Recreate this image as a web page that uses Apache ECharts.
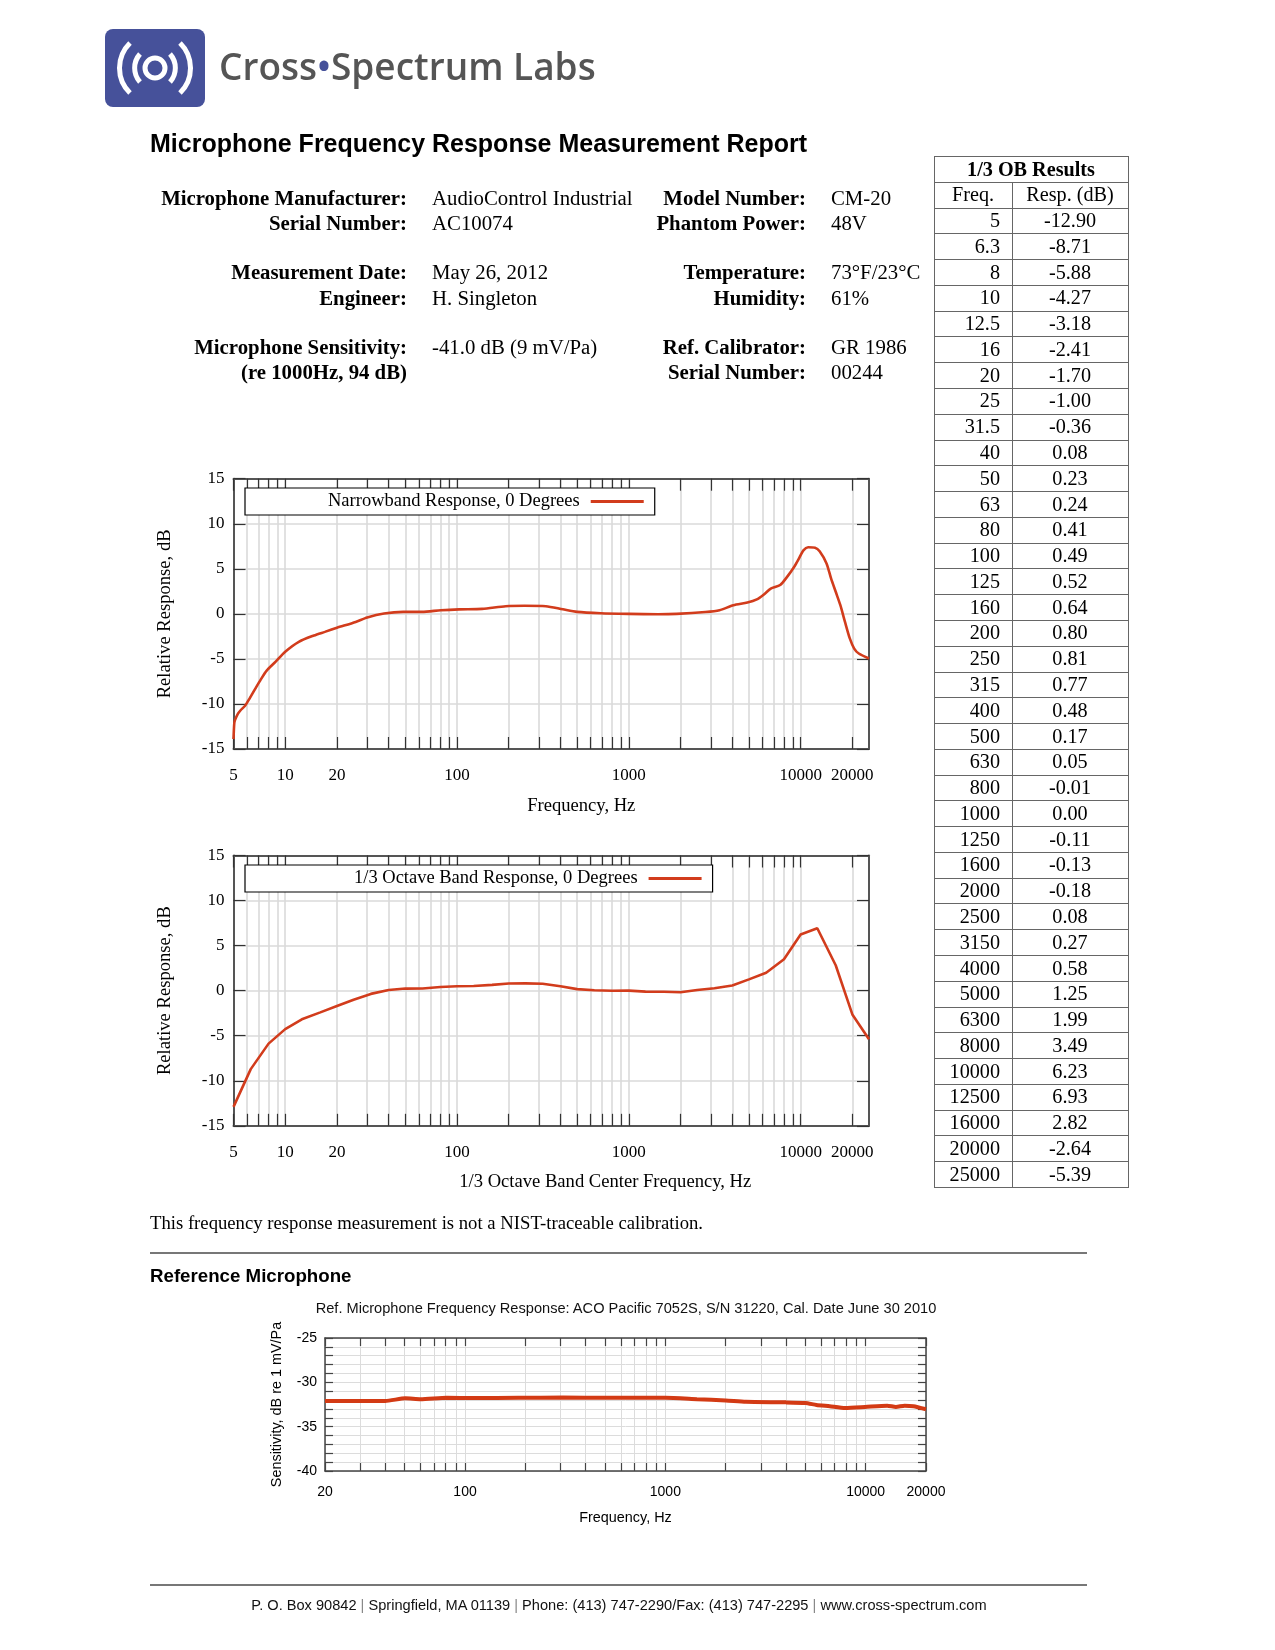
<!DOCTYPE html>
<html><head><meta charset="utf-8">
<script src="https://cdn.jsdelivr.net/npm/echarts@6/dist/echarts.min.js"></script>
<style>
html,body{margin:0;padding:0;background:#fff;}
#page{position:relative;width:1275px;height:1650px;overflow:hidden;background:#fff;}
#chart{position:absolute;left:0;top:0;width:1275px;height:1650px;}
.t{position:absolute;white-space:nowrap;line-height:1;}
.serif{font-family:'Liberation Serif','Times New Roman',serif;color:#000;}
.sans{font-family:'Liberation Sans',Arial,sans-serif;color:#000;}
.lbl{font-weight:bold;text-align:right;}
.info{font-size:20.8px;}
#obt{position:absolute;left:0;top:0;font-family:'Liberation Serif','Times New Roman',serif;font-size:20.2px;color:#000;}
#obt .cell{position:absolute;white-space:nowrap;}
#obt .hl{position:absolute;height:0;border-top:1px solid #666;}
#obt .vl{position:absolute;width:0;border-left:1px solid #666;}
.hr{position:absolute;left:150px;width:937px;height:0;border-top:2px solid #777;}
</style></head>
<body><div id="page">
<div id="chart"></div>

<svg style="position:absolute;left:105px;top:29px" width="100" height="78" viewBox="0 0 100 78">
  <rect x="0" y="0" width="100" height="78" rx="8" ry="8" fill="#46519a"/>
  <g fill="none" stroke="#fff" stroke-width="5">
    <path d="M 25 14 A 35 35 0 0 0 25 64"/>
    <path d="M 75 14 A 35 35 0 0 1 75 64"/>
    <path d="M 35 25 A 21 21 0 0 0 35 53"/>
    <path d="M 65 25 A 21 21 0 0 1 65 53"/>
    <circle cx="50" cy="39" r="10"/>
  </g>
</svg>
<div class="t" style="left:219px;top:46.5px;font-family:'Open Sans','Noto Sans',sans-serif;font-size:37px;color:#555;font-weight:600;">Cross<span style="color:#46519a">•</span>Spectrum Labs</div>

<div class="t sans" style="left:150px;top:130.5px;font-size:25px;font-weight:bold;">Microphone Frequency Response Measurement Report</div>

<div class="t serif lbl info" style="right:868px;top:187.5px;">Microphone Manufacturer:</div>
<div class="t serif info" style="left:432px;top:187.5px;">AudioControl Industrial</div>
<div class="t serif lbl info" style="right:868px;top:212.5px;">Serial Number:</div>
<div class="t serif info" style="left:432px;top:212.5px;">AC10074</div>
<div class="t serif lbl info" style="right:868px;top:262px;">Measurement Date:</div>
<div class="t serif info" style="left:432px;top:262px;">May 26, 2012</div>
<div class="t serif lbl info" style="right:868px;top:287.5px;">Engineer:</div>
<div class="t serif info" style="left:432px;top:287.5px;">H. Singleton</div>
<div class="t serif lbl info" style="right:868px;top:336.5px;">Microphone Sensitivity:</div>
<div class="t serif info" style="left:432px;top:336.5px;">-41.0 dB (9 mV/Pa)</div>
<div class="t serif lbl info" style="right:868px;top:362px;">(re 1000Hz, 94 dB)</div>

<div class="t serif lbl info" style="right:469px;top:187.5px;">Model Number:</div>
<div class="t serif info" style="left:831px;top:187.5px;">CM-20</div>
<div class="t serif lbl info" style="right:469px;top:212.5px;">Phantom Power:</div>
<div class="t serif info" style="left:831px;top:212.5px;">48V</div>
<div class="t serif lbl info" style="right:469px;top:262px;">Temperature:</div>
<div class="t serif info" style="left:831px;top:262px;">73°F/23°C</div>
<div class="t serif lbl info" style="right:469px;top:287.5px;">Humidity:</div>
<div class="t serif info" style="left:831px;top:287.5px;">61%</div>
<div class="t serif lbl info" style="right:469px;top:336.5px;">Ref. Calibrator:</div>
<div class="t serif info" style="left:831px;top:336.5px;">GR 1986</div>
<div class="t serif lbl info" style="right:469px;top:362px;">Serial Number:</div>
<div class="t serif info" style="left:831px;top:362px;">00244</div>

<div id="obt"></div>

<div class="t serif" style="left:150px;top:1213.5px;font-size:18.7px;">This frequency response measurement is not a NIST-traceable calibration.</div>
<div class="hr" style="top:1252px;"></div>
<div class="t sans" style="left:150px;top:1267px;font-size:18.7px;font-weight:bold;">Reference Microphone</div>
<div class="t sans" style="left:626px;top:1301px;font-size:14.6px;transform:translateX(-50%);color:#111;">Ref. Microphone Frequency Response: ACO Pacific 7052S, S/N 31220, Cal. Date June 30 2010</div>
<div class="hr" style="top:1584px;"></div>
<div class="t sans" style="left:619px;top:1598px;font-size:14.6px;transform:translateX(-50%);color:#111;">P. O. Box 90842 <span style="color:#888">|</span> Springfield, MA 01139 <span style="color:#888">|</span> Phone: (413) 747-2290/Fax: (413) 747-2295 <span style="color:#888">|</span> www.cross-spectrum.com</div>
</div>

<script>
// ---------- DATA ----------
// Narrowband response
const nbFreq = [5, 5.05, 5.1, 5.3, 5.5, 5.84, 6.2, 6.7, 7.2, 7.8, 8.8, 10, 12, 14.7, 17, 20, 25.7, 30, 37.6, 48.6, 62.6, 80.5, 103, 140, 192, 247, 329, 413, 500, 686, 1000, 1482, 1900, 2790, 3370, 4060, 4900, 5560, 6110, 6700, 7600, 8340, 9160, 9750, 10380, 11050, 12130, 12900, 14150, 15050, 16000, 17030, 18120, 19300, 20500, 21800, 25000];
const nbResp = [-13.9, -12.2, -11.8, -11.1, -10.7, -10.2, -9.4, -8.3, -7.3, -6.3, -5.3, -4.2, -3.1, -2.4, -2.0, -1.55, -0.9, -0.4, 0.04, 0.22, 0.22, 0.4, 0.5, 0.55, 0.85, 0.9, 0.85, 0.5, 0.22, 0.07, 0, -0.04, 0, 0.2, 0.4, 0.96, 1.25, 1.6, 2.15, 2.8, 3.2, 4.1, 5.2, 6.1, 7.05, 7.4, 7.35, 6.95, 5.6, 3.9, 2.45, 0.96, -0.9, -2.7, -3.85, -4.4, -4.95];
// 1/3 octave band results (table)
const obFreq = [5, 6.3, 8, 10, 12.5, 16, 20, 25, 31.5, 40, 50, 63, 80, 100, 125, 160, 200, 250, 315, 400, 500, 630, 800, 1000, 1250, 1600, 2000, 2500, 3150, 4000, 5000, 6300, 8000, 10000, 12500, 16000, 20000, 25000];
const obResp = [-12.90, -8.71, -5.88, -4.27, -3.18, -2.41, -1.70, -1.00, -0.36, 0.08, 0.23, 0.24, 0.41, 0.49, 0.52, 0.64, 0.80, 0.81, 0.77, 0.48, 0.17, 0.05, -0.01, 0.00, -0.11, -0.13, -0.18, 0.08, 0.27, 0.58, 1.25, 1.99, 3.49, 6.23, 6.93, 2.82, -2.64, -5.39];
// Reference microphone sensitivity
const refFreq = [20, 40, 50.4, 60, 81, 111, 185, 308, 510, 1000, 1437, 2000, 2520, 4000, 5000, 5680, 6610, 7900, 9930, 12800, 14150, 15650, 17300, 20000];
const refResp = [-32.1, -32.1, -31.8, -31.9, -31.74, -31.78, -31.74, -31.72, -31.74, -31.74, -31.9, -32.04, -32.2, -32.26, -32.33, -32.55, -32.7, -32.9, -32.78, -32.63, -32.78, -32.63, -32.7, -33.04];
// Ticks / labels
const respTickVals = [5, 6, 7, 8, 9, 10, 20, 30, 40, 50, 60, 70, 80, 90, 100, 200, 300, 400, 500, 600, 700, 800, 900, 1000, 2000, 3000, 4000, 5000, 6000, 7000, 8000, 9000, 10000, 20000];
const respLabelVals = [5, 10, 20, 100, 1000, 10000, 20000];
const refTickVals = [20, 30, 40, 50, 60, 70, 80, 90, 100, 200, 300, 400, 500, 600, 700, 800, 900, 1000, 2000, 3000, 4000, 5000, 6000, 7000, 8000, 9000, 10000, 20000];
const refLabelVals = [20, 100, 1000, 10000, 20000];
const refYLabelVals = [-40, -35, -30, -25];
const seriesNames = ['Narrowband Response, 0 Degrees', '1/3 Octave Band Response, 0 Degrees', 'Reference Microphone'];

// ---------- TABLE ----------
(function(){
  const nRows = obFreq.length + 2;
  const T = {left: 934, right: 1128, div: 1012, top: 156, rowH: (1187 - 156) / nRows};
  const el = document.getElementById('obt');
  let h = '';
  for (let i = 0; i <= nRows; i++) {
    h += '<div class="hl" style="left:' + T.left + 'px;width:' + (T.right - T.left) + 'px;top:' + (T.top + i * T.rowH).toFixed(2) + 'px"></div>';
  }
  const bottom = T.top + nRows * T.rowH;
  h += '<div class="vl" style="left:' + T.left + 'px;top:' + T.top + 'px;height:' + (bottom - T.top).toFixed(2) + 'px"></div>';
  h += '<div class="vl" style="left:' + T.right + 'px;top:' + T.top + 'px;height:' + (bottom - T.top + 1).toFixed(2) + 'px"></div>';
  h += '<div class="vl" style="left:' + T.div + 'px;top:' + (T.top + T.rowH).toFixed(2) + 'px;height:' + (bottom - T.top - T.rowH).toFixed(2) + 'px"></div>';
  const cell = (txt, row, x, w, align, bold, padR) =>
    '<div class="cell" style="left:' + x + 'px;width:' + w + 'px;top:' + (T.top + row * T.rowH + 0.5).toFixed(2) + 'px;height:' + T.rowH.toFixed(2) + 'px;line-height:' + T.rowH.toFixed(2) + 'px;text-align:' + align + ';' + (bold ? 'font-weight:bold;' : '') + (padR ? 'box-sizing:border-box;padding-right:' + padR + 'px;' : '') + '">' + txt + '</div>';
  h += cell('1/3 OB Results', 0, T.left, T.right - T.left, 'center', true);
  h += cell('Freq.', 1, T.left, T.div - T.left, 'center');
  h += cell('Resp. (dB)', 1, T.div, T.right - T.div, 'center');
  for (let i = 0; i < obFreq.length; i++) {
    h += cell(String(obFreq[i]), i + 2, T.left, T.div - T.left, 'right', false, 12);
    h += cell(obResp[i].toFixed(2), i + 2, T.div, T.right - T.div, 'center');
  }
  el.innerHTML = h;
})();

// ---------- CHART ----------
const SERIF = 'Liberation Serif';
const SANS = 'Liberation Sans';
const RED = '#d23c1c';

function freqAxes(g, c) {
  const mk = (pos) => ({
    type: 'log', logBase: 10, gridIndex: g, min: c.min, max: c.max, position: pos,
    axisLine: {show: true, onZero: false, lineStyle: {color: c.frame, width: c.frameW}},
    axisTick: {show: true, inside: true, length: c.tickLen, customValues: c.ticks, lineStyle: {color: c.tickColor, width: 1.2}},
    splitLine: {show: false},
    axisLabel: {show: false}
  });
  const bottom = mk('bottom');
  bottom.splitLine = {show: true, customValues: c.ticks, lineStyle: {color: c.gridColor, width: c.gridW}};
  bottom.axisLabel = {show: true, customValues: c.labels, formatter: v => String(Math.round(v)), margin: c.labelMargin,
    fontFamily: c.font, fontSize: c.fontSize, color: '#000'};
  bottom.name = c.name; bottom.nameLocation = 'middle'; bottom.nameGap = c.nameGap;
  bottom.nameTextStyle = {fontFamily: c.font, fontSize: c.nameSize, color: '#000', padding: c.namePad || 0};
  return [bottom, mk('top')];
}
function dbAxes(g, c) {
  const mk = (pos) => ({
    type: 'value', gridIndex: g, min: c.min, max: c.max, interval: c.interval, position: pos,
    axisLine: {show: true, onZero: false, lineStyle: {color: c.frame, width: c.frameW}},
    axisTick: {show: true, inside: true, length: c.tickLen, lineStyle: {color: c.tickColor, width: 1.2}},
    splitLine: {show: false},
    axisLabel: {show: false}
  });
  const left = mk('left');
  left.splitLine = {show: true, lineStyle: {color: c.gridColor, width: c.gridW}};
  left.axisLabel = {show: true, margin: c.labelMargin, fontFamily: c.font, fontSize: c.fontSize, color: '#000'};
  if (c.labels) left.axisLabel.customValues = c.labels;
  left.name = c.name; left.nameLocation = 'middle'; left.nameGap = c.nameGap; left.nameRotate = 90;
  left.nameTextStyle = {fontFamily: c.font, fontSize: c.nameSize, color: '#000'};
  return [left, mk('right')];
}

const respX = {min: 5, max: 25000, frame: '#555', frameW: 2, tickLen: 12, tickColor: '#333', ticks: respTickVals,
  labels: respLabelVals, gridColor: '#dadada', gridW: 1.6, labelMargin: 18, font: SERIF, fontSize: 17, nameSize: 18.6};
const respY = {min: -15, max: 15, interval: 5, frame: '#555', frameW: 2, tickLen: 12, tickColor: '#333',
  gridColor: '#dadada', gridW: 1.6, labelMargin: 9, font: SERIF, fontSize: 17, nameSize: 18.6,
  name: 'Relative Response, dB', nameGap: 59};

const xAxes = [].concat(
  freqAxes(0, Object.assign({}, respX, {name: 'Frequency, Hz', nameGap: 48, namePad: [0, 0, 0, 60]})),
  freqAxes(1, Object.assign({}, respX, {name: '1/3 Octave Band Center Frequency, Hz', nameGap: 47, namePad: [0, 0, 0, 108]})),
  freqAxes(2, {min: 20, max: 20000, frame: '#444', frameW: 1.5, tickLen: 8, tickColor: '#444', ticks: refTickVals,
    labels: refLabelVals, gridColor: '#dcdcdc', gridW: 1, labelMargin: 14, font: SANS, fontSize: 14, nameSize: 14.4,
    name: 'Frequency, Hz', nameGap: 40})
);
const yAxes = [].concat(
  dbAxes(0, respY),
  dbAxes(1, respY),
  dbAxes(2, {min: -40, max: -25, interval: 1, frame: '#444', frameW: 1.5, tickLen: 8, tickColor: '#444',
    gridColor: '#dcdcdc', gridW: 1, labelMargin: 8, font: SANS, fontSize: 14, nameSize: 14.4, labels: refYLabelVals,
    name: 'Sensitivity, dB re 1 mV/Pa', nameGap: 41})
);

const legendBase = {orient: 'horizontal', align: 'right', icon: 'rect', itemWidth: 53, itemHeight: 3,
  borderColor: '#000', borderWidth: 1.2, borderRadius: 0, backgroundColor: '#fff', selectedMode: false,
  textStyle: {fontFamily: SERIF, fontSize: 18.5, color: '#000', padding: [0, 6, 0, 0]}};

const option = {
  animation: false,
  backgroundColor: 'transparent',
  grid: [
    {left: 233.5, top: 478.7, width: 635.5, height: 270.3, containLabel: false},
    {left: 233.5, top: 855.5, width: 635.5, height: 270.3, containLabel: false},
    {left: 325, top: 1338, width: 601, height: 133, containLabel: false}
  ],
  legend: [
    Object.assign({}, legendBase, {data: [seriesNames[0]], left: 245, top: 488, padding: [4, 11, 4, 83]}),
    Object.assign({}, legendBase, {data: [seriesNames[1]], left: 245, top: 865, padding: [4, 11, 4, 109]})
  ],
  xAxis: xAxes,
  yAxis: yAxes,
  series: [
    {name: seriesNames[0], type: 'line', xAxisIndex: 0, yAxisIndex: 0, data: nbFreq.map((f, i) => [f, nbResp[i]]),
      symbol: 'none', smooth: 0.25, lineStyle: {color: RED, width: 2.6}, itemStyle: {color: RED}, z: 5},
    {name: seriesNames[1], type: 'line', xAxisIndex: 2, yAxisIndex: 2, data: obFreq.map((f, i) => [f, obResp[i]]),
      symbol: 'none', smooth: false, lineStyle: {color: RED, width: 2.6}, itemStyle: {color: RED}, z: 5},
    {name: seriesNames[2], type: 'line', xAxisIndex: 4, yAxisIndex: 4, data: refFreq.map((f, i) => [f, refResp[i]]),
      symbol: 'none', smooth: 0.2, lineStyle: {color: '#d33a14', width: 4}, itemStyle: {color: '#d33a14'}, z: 5}
  ]
};
const chart = echarts.init(document.getElementById('chart'), null, {renderer: 'canvas'});
chart.setOption(option);
</script>
</body></html>
